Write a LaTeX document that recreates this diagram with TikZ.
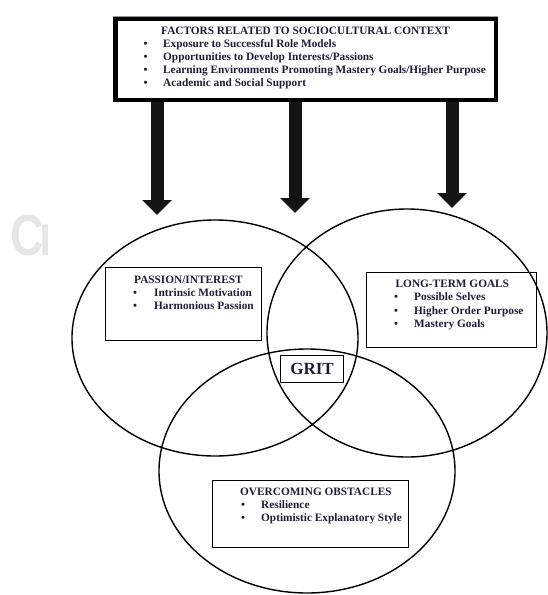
\documentclass[tikz,border=0pt]{standalone}
\usepackage{fontspec}
\setmainfont{Liberation Serif}
\newfontfamily\wmfont{Liberation Sans}
\usetikzlibrary{arrows.meta}
\definecolor{ink}{HTML}{1E1E38}
\definecolor{wmgray}{HTML}{E6E6E6}
\begin{document}
\begin{tikzpicture}[x=1pt,y=-1pt,
  venn/.style={line width=1.4pt},
  boxnode/.style={draw, line width=1pt, inner sep=0pt, anchor=north west},
  txt/.style={font=\bfseries\fontsize{11.3}{13}\selectfont, text=ink, inner sep=0pt, anchor=base west},
  bul/.style={font=\bfseries\fontsize{11.3}{13}\selectfont, text=ink, inner sep=0pt, anchor=base},
  wmtext/.style={font=\wmfont\bfseries\fontsize{58}{58}\selectfont, text=wmgray, anchor=base west, inner sep=0pt},
  bigarrow/.style={line width=13pt, draw=black!92, -{Triangle[width=29pt,length=15pt]}}]
\useasboundingbox (0,0) rectangle (547,595);

% watermark fragment
\node[wmtext] (wmc) at (10.5,255) {\scalebox{0.8}[1]{C}};
\begin{scope}
\clip (40,200) rectangle (47.5,262);
\node[wmtext] (wmr) at (39,255) {\scalebox{0.8}[1]{r}};
\end{scope}

% Venn ellipses
\draw[venn] (215,338) ellipse [x radius=143, y radius=118];
\draw[venn] (407,333) ellipse [x radius=140, y radius=124];
\draw[venn] (307,471) ellipse [x radius=148, y radius=122];

% top box with shadow
\draw[line width=4.5pt, draw=black!40] (114.8,18.1) rectangle (495.4,99);
\node[draw, fill=white, line width=4.5pt, minimum width=380.6pt, minimum height=80.9pt, anchor=north west, inner sep=0pt] (top) at (113.3,16.6) {};
\node[txt] (t0) at (161,34) {FACTORS RELATED TO SOCIOCULTURAL CONTEXT};
\node[bul] (b1) at (145.5,47) {\textbullet};
\node[txt] (t1) at (163,47) {Exposure to Successful Role Models};
\node[bul] (b2) at (145.5,60) {\textbullet};
\node[txt] (t2) at (163,60) {Opportunities to Develop Interests/Passions};
\node[bul] (b3) at (145.5,73) {\textbullet};
\node[txt] (t3) at (163,73) {Learning Environments Promoting Mastery Goals/Higher Purpose};
\node[bul] (b4) at (145.5,86) {\textbullet};
\node[txt] (t4) at (163,86) {Academic and Social Support};

% arrows
\coordinate (a1) at (157,215);
\coordinate (a2) at (295,213);
\coordinate (a3) at (452,208);
\draw[bigarrow] (top.south -| a1) -- (a1);
\draw[bigarrow] (top.south -| a2) -- (a2);
\draw[bigarrow] (top.south -| a3) -- (a3);

% passion box
\node[boxnode, minimum width=156pt, minimum height=73pt] (pbox) at (105,267) {};
\node[txt] (p0) at (134,283) {PASSION/INTEREST};
\node[bul] (pb1) at (135,296) {\textbullet};
\node[txt] (p1) at (154,296) {Intrinsic Motivation};
\node[bul] (pb2) at (135,309) {\textbullet};
\node[txt] (p2) at (154,309) {Harmonious Passion};

% long-term goals box
\node[boxnode, minimum width=170pt, minimum height=75pt] (lbox) at (366,272) {};
\node[txt] (l0) at (395.5,287) {LONG-TERM GOALS};
\node[bul] (lb1) at (396,300) {\textbullet};
\node[txt] (l1) at (414,300) {Possible Selves};
\node[bul] (lb2) at (396,314) {\textbullet};
\node[txt] (l2) at (414,314) {Higher Order Purpose};
\node[bul] (lb3) at (396,327) {\textbullet};
\node[txt] (l3) at (414,327) {Mastery Goals};

% grit box
\node[boxnode, minimum width=63pt, minimum height=27pt] (gbox) at (280,355) {};
\node[font=\bfseries\fontsize{17}{20}\selectfont, text=ink, inner sep=0pt] (grit) at (gbox.center) {GRIT};

% overcoming obstacles box
\node[boxnode, minimum width=196pt, minimum height=67pt] (obox) at (212,480) {};
\node[txt] (o0) at (240,495) {OVERCOMING OBSTACLES};
\node[bul] (ob1) at (243,508) {\textbullet};
\node[txt] (o1) at (261,508) {Resilience};
\node[bul] (ob2) at (243,521) {\textbullet};
\node[txt] (o2) at (261,521) {Optimistic Explanatory Style};
\end{tikzpicture}
\end{document}
